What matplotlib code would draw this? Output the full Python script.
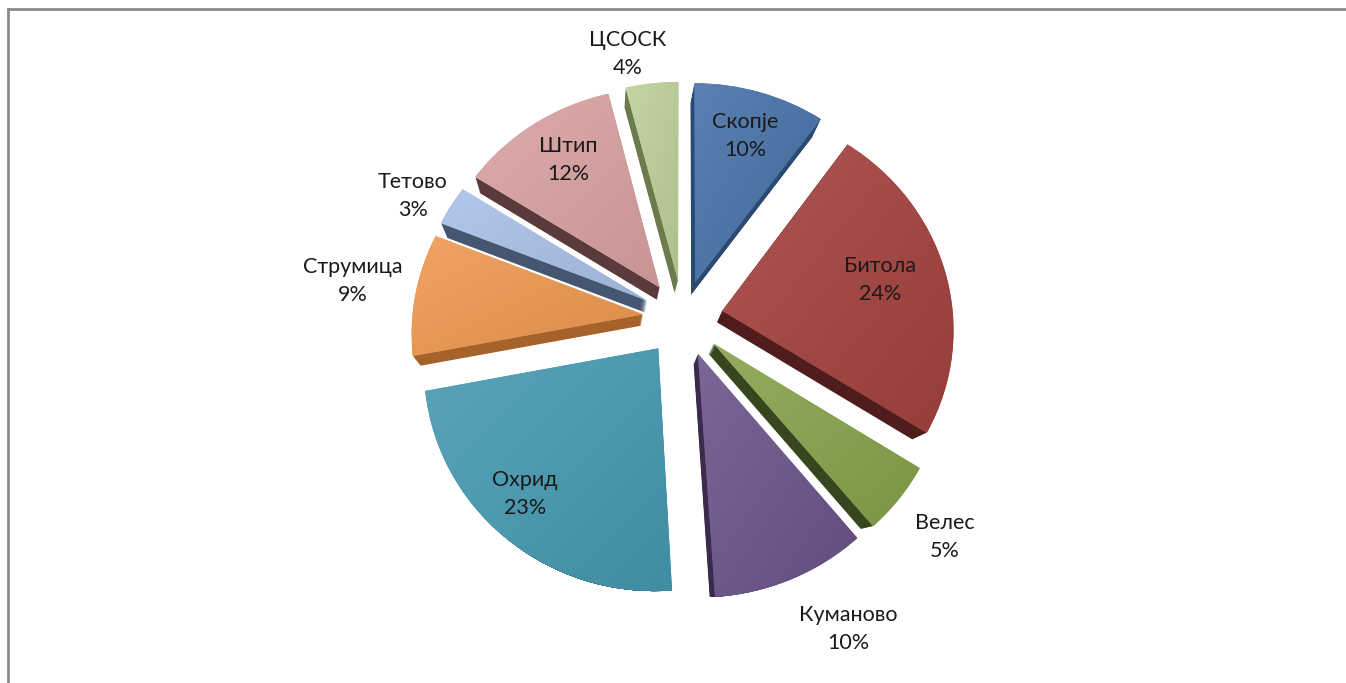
import numpy as np
import matplotlib
matplotlib.use("Agg")
import matplotlib.pyplot as plt
import matplotlib.transforms as mtransforms
from matplotlib.colors import to_rgb
from matplotlib.lines import Line2D

# data
cities = ["Скопје", "Битола", "Велес", "Куманово", "Охрид",
          "Струмица", "Тетово", "Штип", "ЦСОСК"]
shares = [10, 24, 5, 10, 23, 9, 3, 12, 4]

face_colors = ["#4571a7", "#a3413e", "#86a24b", "#6b5389", "#4599b1",
               "#ee9850", "#a9c0e6", "#d9a1a1", "#bdd09a"]
side_colors = ["#2c4a70", "#4f1d1c", "#38461f", "#3a2b4e", "#2a6070",
               "#a5632b", "#465570", "#5a3a3a", "#6c7a4e"]

# label placement in image pixels (x, y of the label block centre)
label_pos = [(745, 136), (880, 280), (945, 537), (848, 629), (525, 494),
             (353, 281), (413, 196), (568, 160), (628, 54)]

W, H = 1346, 683


class Perspective(mtransforms.Transform):
    """Tilt the pie plane: far (top) side shrinks, near side grows."""
    input_dims = output_dims = 2
    is_separable = False
    has_inverse = False

    def __init__(self, origin, a, sy):
        super().__init__()
        self.origin = np.asarray(origin, float)
        self.a = a
        self.sy = sy

    def transform_non_affine(self, values):
        v = np.asarray(values, float)
        d = v - self.origin
        s = 1.0 / (1.0 + self.a * d[:, 1])
        return self.origin + np.column_stack([d[:, 0] * s, d[:, 1] * s * self.sy])


fig = plt.figure(figsize=(W / 100, H / 100), dpi=100)
ax = fig.add_axes([0, 0, 1, 1])

plt.rcParams['font.family'] = ['Lato', 'DejaVu Sans']

# pie geometry (data units = pixels, y up)
center = np.array([683.0, H - 318.0])
radius = 231
gap = 40                                  # explode distance in pixels
vanish = center + np.array([-80.0, -260.0])   # extrusion shrinks towards this
depth = 0.045
persp = Perspective(center, 0.00033, 0.95)

# extruded sides: stacked shrunken copies of the pie, darker colours
for k in np.linspace(depth, 0.004, 16):
    c = vanish + (1 - k) * (center - vanish)
    side, _ = ax.pie(shares, explode=[gap * (1 - k)] * len(shares),
                     colors=side_colors, startangle=90, counterclock=False,
                     radius=radius * (1 - k), center=tuple(c),
                     wedgeprops=dict(linewidth=0), frame=True)
    for w in side:
        w.set_transform(persp + ax.transData)

# top faces
wedges, _ = ax.pie(shares, explode=[gap] * len(shares), colors=face_colors,
                   startangle=90, counterclock=False, radius=radius,
                   center=tuple(center), wedgeprops=dict(linewidth=0),
                   frame=True)

# soft lighting from the upper left on every face
n = 80
gx, gy = np.meshgrid(np.linspace(0, 1, n), np.linspace(0, 1, n))
t = (gx + gy) / 2          # 0 at upper left, 1 at lower right (origin upper)
for w, col in zip(wedges, face_colors):
    w.set_transform(persp + ax.transData)
    verts = persp.transform(w.get_path().vertices)
    x0, y0 = verts.min(axis=0)
    x1, y1 = verts.max(axis=0)
    base = np.array(to_rgb(col))
    light = base + (1 - base) * 0.11
    dark = base * 0.92
    img = light[None, None, :] * (1 - t[..., None]) + dark[None, None, :] * t[..., None]
    im = ax.imshow(img, extent=(x0, x1, y0, y1), origin="upper",
                   interpolation="bilinear", zorder=w.get_zorder() + 0.5)
    im.set_clip_path(w)

ax.set_xlim(0, W)
ax.set_ylim(0, H)
ax.set_aspect("equal")
ax.axis("off")

for name, val, (px, py) in zip(cities, shares, label_pos):
    ax.text(px, H - py, f"{name}\n{val}%", ha="center", va="center",
            fontsize=15.5, color="#1a1a1a", linespacing=1.5, zorder=5)

# chart frame (top and left edges visible)
fig.add_artist(Line2D([8 / W, 1], [1 - 9 / H, 1 - 9 / H], color="#8a8a8a",
                      lw=2, transform=fig.transFigure))
fig.add_artist(Line2D([8 / W, 8 / W], [0, 1 - 9 / H], color="#8a8a8a",
                      lw=2, transform=fig.transFigure))

fig.savefig("out.png", dpi=100, facecolor="white")
